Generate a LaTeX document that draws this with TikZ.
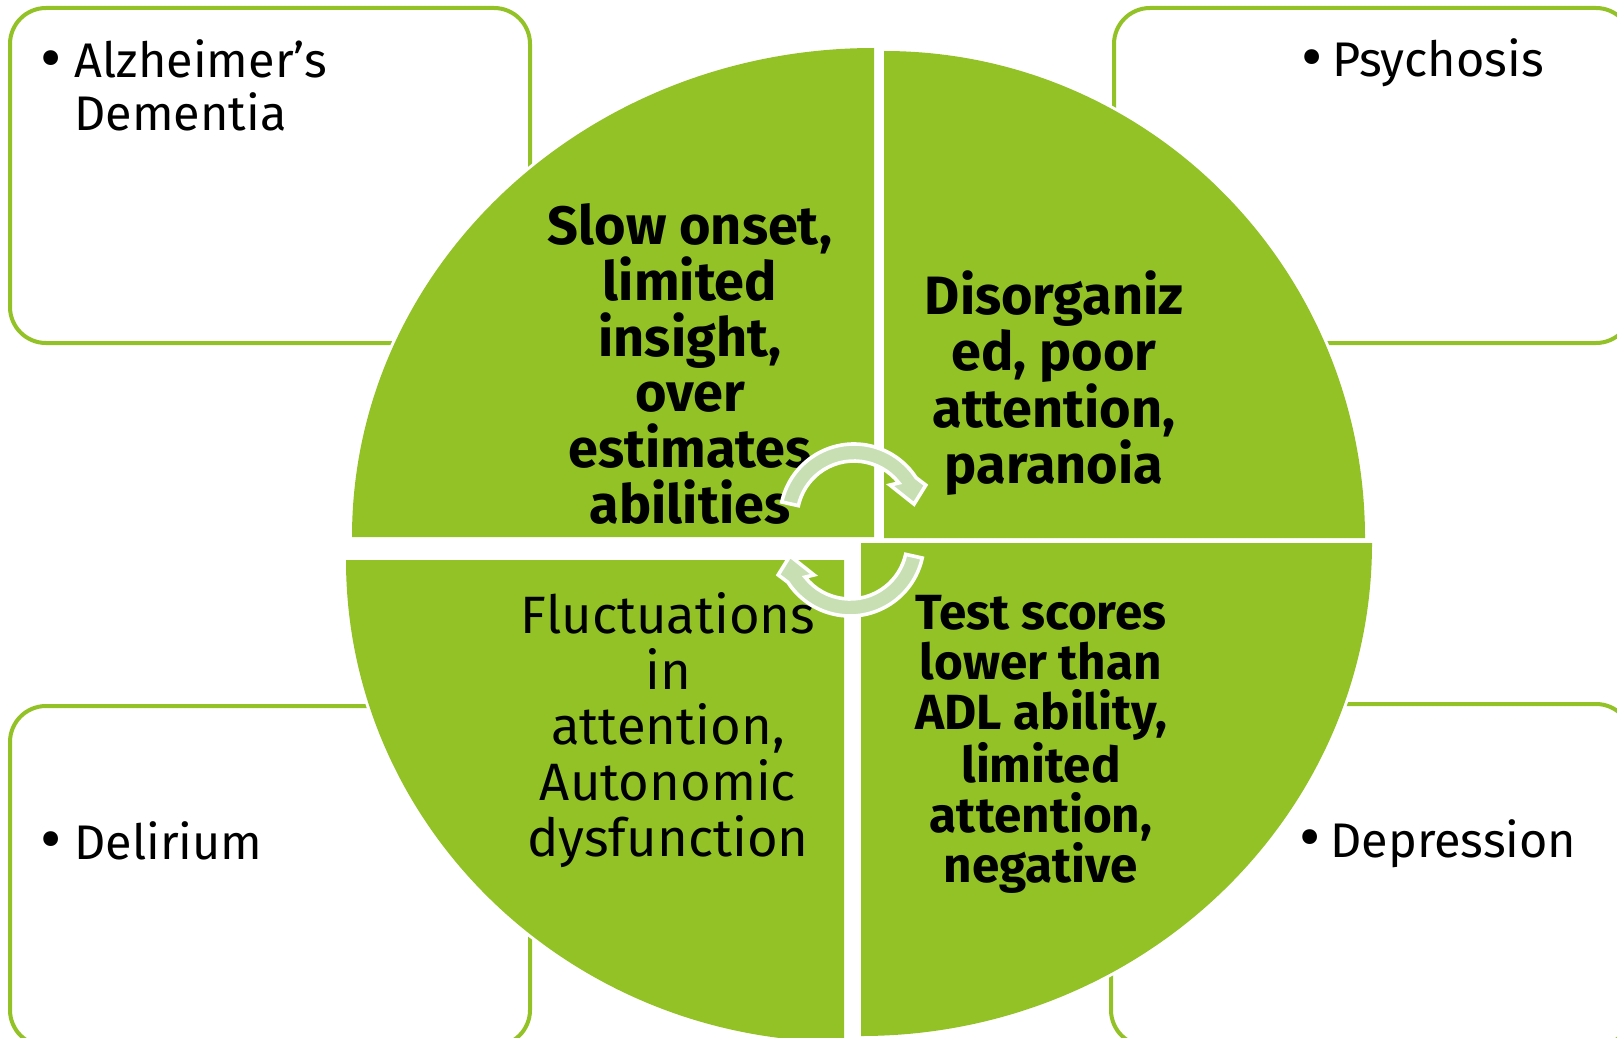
\documentclass[tikz,border=0pt]{standalone}
\usepackage{fontspec}
\setmainfont{Fira Sans}
\definecolor{qgreen}{HTML}{92C226}
\definecolor{agreen}{HTML}{C7DFB2}
\newcommand{\bigbul}{\raisebox{-0.1ex}{\scalebox{1.35}{\textbullet}}}
\begin{document}
\begin{tikzpicture}[x=0.5pt,y=-0.5pt,
  box/.style={draw=qgreen, line width=2pt, rounded corners=18pt, fill=white},
  quad/.style={fill=qgreen, preaction={draw=white, line width=3pt}},
  cyc/.style={fill=agreen, draw=white, line width=1.8pt, line join=miter},
  boldtxt/.style={align=center, inner sep=0pt, font=\bfseries\fontsize{27pt}{27.85pt}\selectfont},
  regtxt/.style={align=center, inner sep=0pt, font=\fontsize{26.3pt}{27.85pt}\selectfont},
  smallbold/.style={align=center, inner sep=0pt, font=\bfseries\fontsize{24.7pt}{25pt}\selectfont},
  bullettxt/.style={anchor=base west, inner sep=0pt, font=\fontsize{24.3pt}{24.75pt}\selectfont}
]
\useasboundingbox (0,0) rectangle (1617,1038);
\clip (0,0) rectangle (1617,1038);
\fill[white] (0,0) rectangle (1617,1038);

% corner boxes
\draw[box] (10,8) rectangle (530,343);
\draw[box] (1114,8) rectangle (1632,343);
\draw[box] (10,706) rectangle (530,1046);
\draw[box] (1111,704) rectangle (1632,1046);

% box texts
\node[bullettxt] (alz) at (40,78) {\begin{tabular}[t]{@{}p{17pt}@{}l@{}}\bigbul & Alzheimer’s\\ & Dementia\end{tabular}};
\node[bullettxt] (psy) at (1301,77) {\begin{tabular}[t]{@{}p{15.5pt}@{}l@{}}\bigbul & Psychosis\end{tabular}};
\node[bullettxt] (del) at (40,859) {\begin{tabular}[t]{@{}p{17pt}@{}l@{}}\bigbul & Delirium\end{tabular}};
\node[bullettxt] (dep) at (1299,857) {\begin{tabular}[t]{@{}p{15.5pt}@{}l@{}}\bigbul & Depression\end{tabular}};

% quadrants
\path[quad] (874,537) -- (352,537) arc[start angle=180, end angle=270, x radius=522, y radius=489] -- cycle;
\path[quad] (884,538) -- (884,51) arc[start angle=270, end angle=360, x radius=481, y radius=487] -- cycle;
\path[quad] (844,560) -- (346,560) arc[start angle=180, end angle=90, x radius=498, y radius=482] -- cycle;
\path[quad] (861,543) -- (1372,543) arc[start angle=0, end angle=90, x radius=511, y radius=493] -- cycle;

% quadrant texts
\node[boldtxt] (q1) at (690,364) {Slow onset,\\limited\\insight,\\over\\estimates\\abilities};
\node[boldtxt] (q2) at (1054,383) {Disorganiz\\ed, poor\\attention,\\paranoia};
\node[regtxt] (q3) at (668,730) {Fluctuations\\in\\attention,\\Autonomic\\dysfunction};
\node[smallbold] (q4) at (1041,744) {Test scores\\lower than\\ADL ability,\\limited\\attention,\\negative};

% circular arrows
\begin{scope}[shift={(854,518)}, yscale=-1]
  \path[cyc] (167.5:74) arc[start angle=167.5, end angle=33, radius=74]
    -- (24.6:79) -- (13:61.6) -- (42.5:48.8) -- (38:57)
    arc[start angle=38, end angle=167.5, radius=57] -- cycle;
\end{scope}
\begin{scope}[shift={(850,542)}, yscale=-1, rotate=180]
  \path[cyc] (167.5:74) arc[start angle=167.5, end angle=33, radius=74]
    -- (24.6:79) -- (13:61.6) -- (42.5:48.8) -- (38:57)
    arc[start angle=38, end angle=167.5, radius=57] -- cycle;
\end{scope}
\end{tikzpicture}
\end{document}
